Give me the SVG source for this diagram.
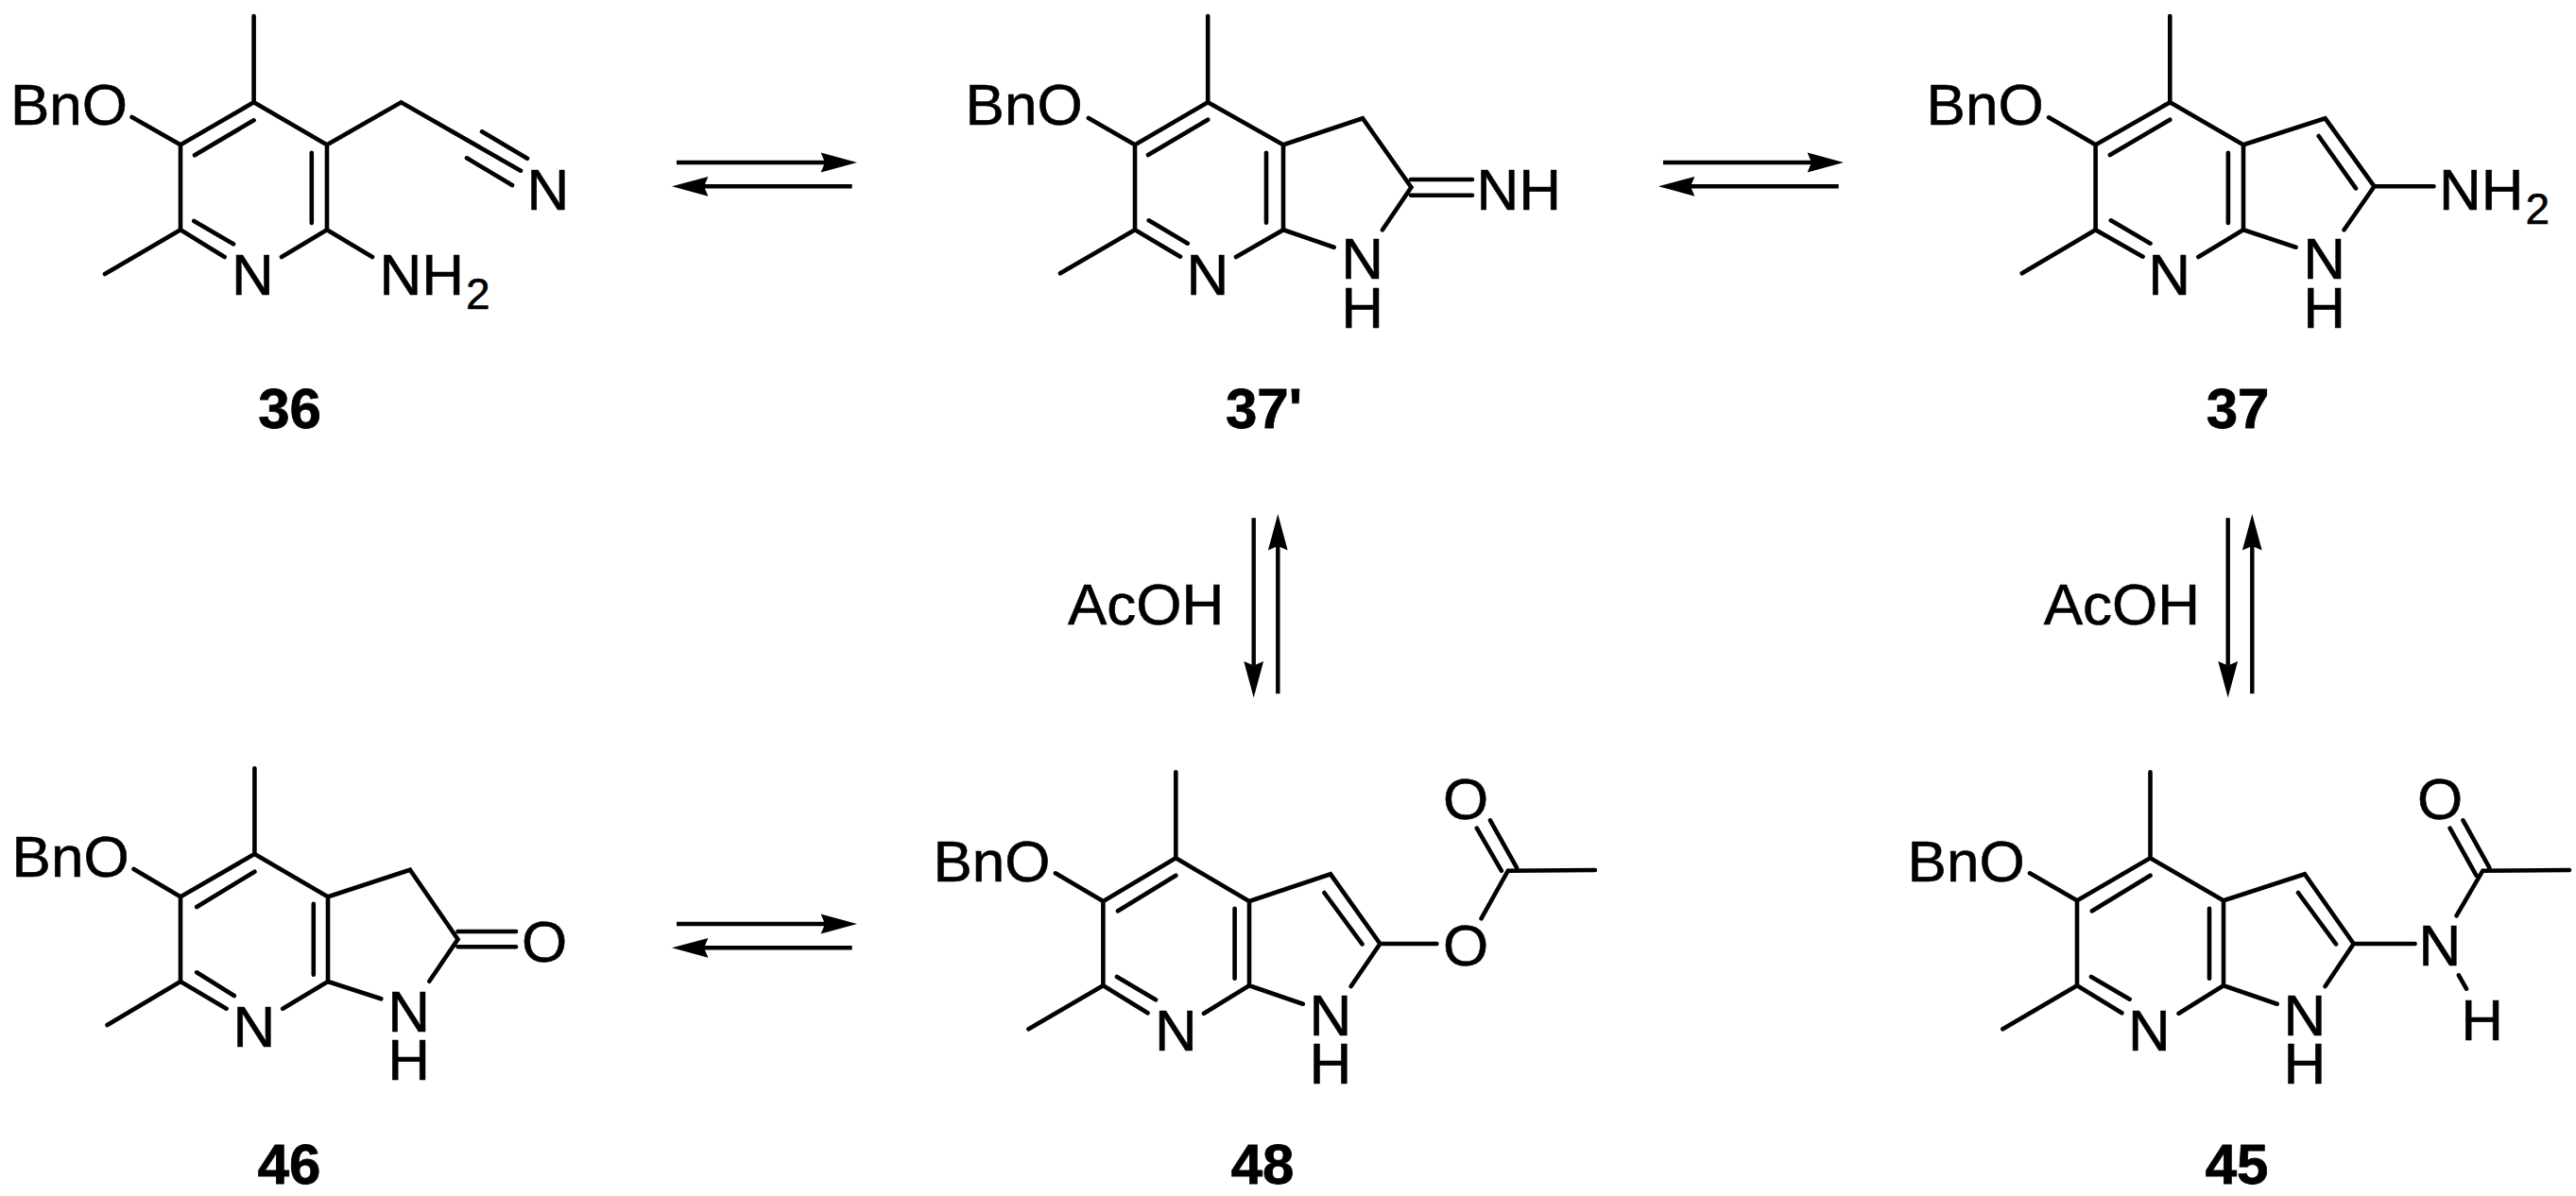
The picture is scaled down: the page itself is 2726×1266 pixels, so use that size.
<svg xmlns="http://www.w3.org/2000/svg" width="2726" height="1266" viewBox="0 0 2726 1266">
<defs>
<style>
.b{fill:none;stroke:#000;stroke-width:4.600;stroke-linecap:round;stroke-linejoin:miter}
.t{font-family:"Liberation Sans",Arial,sans-serif;font-size:62px;fill:#000;stroke:#000;stroke-width:.6px}
.m{text-anchor:middle}
.s{font-size:46px}
.id{font-family:"Liberation Sans",Arial,sans-serif;font-size:60px;font-weight:700;fill:#000;stroke:#000;stroke-width:.8px;text-anchor:middle}
.a{fill:none;stroke:#000;stroke-width:4.400;marker-end:url(#head)}
</style>
<marker id="head" markerUnits="userSpaceOnUse" viewBox="-6 -12 42 24" markerWidth="42" markerHeight="24" refX="0" refY="0" orient="auto"><path d="M0 0L-4.4-10.4L34 0L-4.4 10.4Z" fill="#000"/></marker>
</defs>
<rect width="2726" height="1266" fill="#fff"/>
<g id="connectors">
<path class="a" d="M716 172H873"/>
<path class="a" d="M901.700 197.300H745"/>
<path class="a" d="M1760 172H1917"/>
<path class="a" d="M1945.700 197.300H1789"/>
<path class="a" d="M716 978H873"/>
<path class="a" d="M901.700 1003.300H745"/>
<path class="a" d="M1326.700 548.300V704.500"/>
<path class="a" d="M1352.300 734.300V578"/>
<path class="a" d="M2357.700 548.300V704.500"/>
<path class="a" d="M2383.300 734.300V578"/>
</g>
<g id="reagent-1"><text class="t" x="1130" y="661">AcOH</text></g>
<g id="reagent-2"><text class="t" x="2162.700" y="661">AcOH</text></g>
<g id="mol-36">
<path class="b" d="M268.600 17V108.300L191 153.300V243.300L237.600 272M268.600 127.300L206 164.300M205.300 234L247 258.300M139.600 124L191 153.300M191 243.300L111 290M298 272L346 243.300V153.300L268.600 108.300M329.800 161.700V236M346 243.300L394 272M346 153.300L424.500 108.300L551 180.700M510 139.300L558 167.700M494 167.300L542 196"/>
<text class="t" x="11" y="132">BnO</text>
<text class="t m" x="267.300" y="312">N</text>
<text class="t" x="401.400" y="312">NH<tspan class="s" dx="2" dy="15">2</tspan></text>
<text class="t m" x="580" y="222">N</text>
<text class="id" x="306.500" y="453">36</text>
</g>
<g id="mol-37p">
<path class="b" d="M1278.200 17V108.300L1201 153.300V243.300L1249 271.700M1278.200 126.700L1215 164M1215.700 233.300L1256.800 257.700M1151.900 125L1201 153.300M1201 243.300L1122 289.300M1308 272L1358 243.300V153.300L1278.200 108.300M1340 161.700V235.700M1358 153.300L1442 125.300L1493.400 198.300L1463 243.300M1358 243.300L1411.700 261.700M1493 190H1558M1493 206.700H1558"/>
<text class="t" x="1021.600" y="132">BnO</text>
<text class="t m" x="1277.800" y="312">N</text>
<text class="t m" x="1441.600" y="295">N</text>
<text class="t m" x="1441.600" y="347">H</text>
<text class="t" x="1562.400" y="222">NH</text>
<text class="id" x="1337.500" y="453">37'</text>
</g>
<g id="mol-37">
<path class="b" d="M2296.300 17V108.300L2217.600 153.300V243.300L2267.600 271.700M2296.300 126.700L2232.900 164M2233.800 233.300L2275.500 257.700M2168 124.300L2217.600 153.300M2217.600 243.300L2139.800 289.300M2326.400 272L2374 243.300V153.300L2296.300 108.300M2357.900 161.700V236M2374 153.300L2460.600 125.300L2512.500 197.300L2480.600 243.300M2453.700 144L2493 199.300M2374 243.300L2429.600 261.700M2512.500 197.300H2575.500"/>
<text class="t" x="2038.600" y="132">BnO</text>
<text class="t m" x="2295.600" y="312">N</text>
<text class="t m" x="2459.600" y="295">N</text>
<text class="t m" x="2459.600" y="347">H</text>
<text class="t" x="2581" y="222">NH<tspan class="s" dx="2" dy="15">2</tspan></text>
<text class="id" x="2368" y="453">37</text>
</g>
<g id="mol-46">
<path class="b" d="M269.400 813.300V904L191 949.300V1039L239.600 1067.700M269.400 922.700L208.200 960M208.200 1029.300L247.800 1054M141.600 920L191 949.300M191 1039L113.500 1085M299.200 1067.700L347 1039V949.300L269.400 904M331.800 956.700V1031.700M347 949.300L433.900 920.700L484.500 994.300L454.300 1038.700M347 1039L403.300 1057.300M484.500 986H546M484.500 1002.300H546"/>
<text class="t" x="12.600" y="928">BnO</text>
<text class="t m" x="269" y="1108">N</text>
<text class="t m" x="432.700" y="1091.700">N</text>
<text class="t m" x="432.700" y="1143.300">H</text>
<text class="t m" x="576" y="1018">O</text>
<text class="id" x="306" y="1253">46</text>
</g>
<g id="mol-48">
<path class="b" d="M1244.300 817.300V908.300L1167.400 954V1043.300L1214.500 1072.300M1244.300 926.700L1183 964.300M1182 1034L1223 1058.300M1116.900 924.300L1167.400 954M1167.400 1043.300L1088.500 1089.300M1274 1072.700L1322 1043.300V954L1244.300 908.300M1306.600 961.700V1035.700M1322 954L1408 925.300L1460.400 999L1429.700 1044M1401.400 945L1441.500 999.300M1322 1043.300L1378.800 1062.700M1460.400 999H1520.400M1567.500 972.300L1595.800 921.700L1687.900 921M1562.800 876.700L1588.800 921.700M1577 868.300L1605 918.300"/>
<text class="t" x="987.400" y="932.500">BnO</text>
<text class="t m" x="1244.300" y="1112.300">N</text>
<text class="t m" x="1408" y="1095.700">N</text>
<text class="t m" x="1408" y="1147">H</text>
<text class="t m" x="1551" y="1022">O</text>
<text class="t m" x="1551" y="866.500">O</text>
<text class="id" x="1336" y="1253">48</text>
</g>
<g id="mol-45">
<path class="b" d="M2275.500 817.300V908.300L2198 953.300V1043.300L2245.400 1072.300M2275.500 926.700L2213.900 964.300M2213 1034L2253.700 1057.700M2148 924.300L2198 953.300M2198 1043.300L2119.400 1089.300M2305.600 1072.700L2353 1043.300V953.300L2275.500 908.300M2338 961.700V1035.700M2353 953.300L2438.900 925.300L2490.700 999L2460.600 1044M2432 945L2472 999.300M2353 1043.300L2409.700 1062.700M2490.700 999H2555.600M2599.500 969.300L2627.300 921.700L2719 921M2592.600 876.700L2620.400 926.700M2606.500 868.300L2634.300 918.300M2601.900 1032.300L2610 1046.700"/>
<text class="t" x="2018.600" y="932.500">BnO</text>
<text class="t m" x="2274.500" y="1112.300">N</text>
<text class="t m" x="2439" y="1095.700">N</text>
<text class="t m" x="2439" y="1147">H</text>
<text class="t m" x="2582" y="1022.300">N</text>
<text class="t m" x="2582" y="866.500">O</text>
<text class="t m" x="2626.700" y="1100.700">H</text>
<text class="id" x="2367" y="1253">45</text>
</g>
</svg>
